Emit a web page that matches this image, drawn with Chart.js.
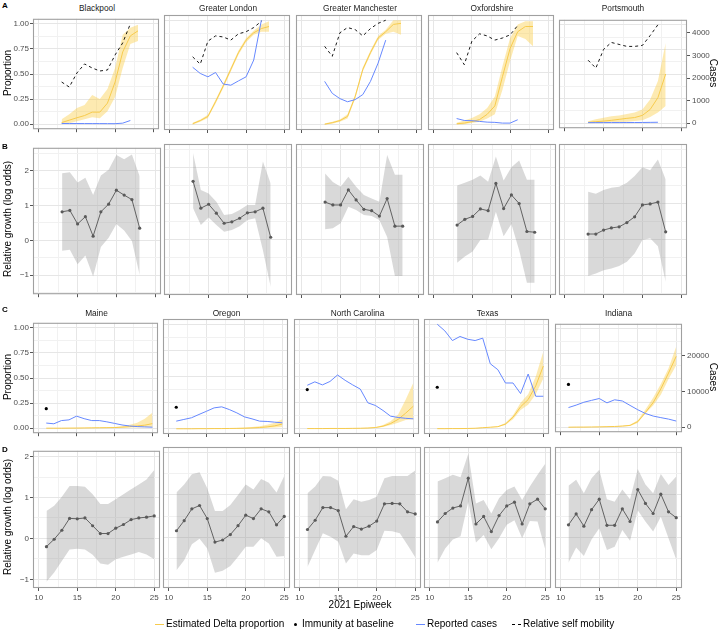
<!DOCTYPE html>
<html><head><meta charset="utf-8">
<script src="https://cdn.jsdelivr.net/npm/chart.js@4.4.1/dist/chart.umd.min.js"></script>
<style>
body{margin:0;background:#fff;}
#wrap{position:relative;width:720px;height:632px;overflow:hidden;font-family:'Liberation Sans',Arial,sans-serif;background:#fff;}
#wrap canvas{position:absolute;}
.strip{position:absolute;font-size:8.3px;line-height:10px;color:#1a1a1a;text-align:center;white-space:nowrap;}
.tag{position:absolute;font-size:8px;font-weight:bold;color:#000;line-height:10px;}
.rot{position:absolute;font-size:10px;line-height:12px;color:#000;white-space:nowrap;text-align:center;width:200px;}
.leg{position:absolute;font-size:10px;line-height:12px;color:#000;white-space:nowrap;}
</style></head>
<body><div id="wrap"></div>
<script>
// ---------------- DATA ----------------
const ukRegions = ['Blackpool','Greater London','Greater Manchester','Oxfordshire','Portsmouth'];
const usStates = ['Maine','Oregon','North Carolina','Texas','Indiana'];
const ukWeeks = [13,14,15,16,17,18,19,20,21,22,23];
const usWeeks = [11,12,13,14,15,16,17,18,19,20,21,22,23,24,25];
const xTickLabels = [10,15,20,25];
const propTicks = [0,0.25,0.5,0.75,1];
const growthTicks = [-1,0,1,2];
const ukCaseTicks = [0,1000,2000,3000,4000];
const usCaseTicks = [0,10000,20000];

// Panel A: estimated Delta proportion (median, low, high), weeks from 13
const ukDeltaMid = [
  [0.016,0.04,0.064,0.086,0.12,0.12,0.21,0.42,0.72,0.88,0.93],
  [0.01,0.04,0.08,0.22,0.37,0.53,0.69,0.81,0.88,0.92,0.94],
  [0.006,0.02,0.04,0.08,0.27,0.53,0.69,0.83,0.89,0.96,0.97],
  [0.01,0.016,0.03,0.05,0.10,0.18,0.46,0.73,0.89,0.94,0.94],
  [0.01,0.016,0.022,0.03,0.04,0.05,0.058,0.08,0.14,0.26,0.5]
];
const ukDeltaLow = [
  [0.0,0.01,0.03,0.05,0.07,0.06,0.13,0.27,0.56,0.80,0.83],
  [0.0,0.03,0.065,0.2,0.35,0.51,0.67,0.79,0.86,0.89,0.89],
  [0.0,0.01,0.03,0.06,0.25,0.51,0.67,0.81,0.87,0.89,0.86],
  [0.0,0.006,0.016,0.03,0.06,0.10,0.335,0.61,0.85,0.82,0.75],
  [0.0,0.003,0.006,0.01,0.013,0.016,0.022,0.03,0.064,0.11,0.175]
];
const ukDeltaHigh = [
  [0.05,0.10,0.16,0.19,0.29,0.25,0.35,0.56,0.89,0.96,0.99],
  [0.02,0.05,0.095,0.24,0.39,0.55,0.71,0.83,0.90,0.96,0.99],
  [0.012,0.03,0.05,0.10,0.29,0.55,0.71,0.85,0.91,1.0,1.0],
  [0.02,0.04,0.065,0.10,0.16,0.27,0.56,0.83,0.96,0.99,0.99],
  [0.02,0.04,0.055,0.07,0.08,0.093,0.11,0.14,0.24,0.43,0.815]
];
// reported cases, weeks from 13
const ukCases = [
  [30,28,28,27,26,25,24,22,45,160],
  [2400,2140,2000,2180,1700,1650,1830,2000,2700,4360],
  [1810,1310,1090,960,1050,1260,1810,2570,3530],
  [260,180,170,140,110,100,70,70,210],
  [30,30,30,32,32,33,34,35,40,45]
];
// relative self mobility, weeks from 13
const ukMobility = [
  [0.42,0.37,0.51,0.60,0.56,0.53,0.54,0.69,0.81,1.0],
  [0.65,0.58,0.80,0.85,0.84,0.81,0.87,0.89,0.93,0.99],
  [0.75,0.655,0.88,0.93,0.91,0.85,0.92,0.97,1.0],
  [0.69,0.575,0.80,0.87,0.85,0.81,0.83,0.86,0.95],
  [0.64,0.56,0.75,0.82,0.80,0.78,0.78,0.79,0.89,1.0]
];
// Panel B: relative growth (log odds), weeks from 13
const ukGrowth = [
  [0.82,0.86,0.47,0.68,0.12,0.82,1.04,1.44,1.30,1.17,0.35],
  [1.62,0.87,0.98,0.73,0.45,0.49,0.59,0.74,0.77,0.87,0.06],
  [1.04,0.96,0.96,1.38,1.10,0.84,0.80,0.65,1.14,0.37,0.37],
  [0.40,0.56,0.64,0.85,0.80,1.56,0.86,1.24,1.00,0.22,0.20],
  [0.15,0.15,0.26,0.32,0.35,0.47,0.63,0.96,0.99,1.04,0.21]
];
const ukGrowthLow = [
  [-0.30,-0.27,-0.69,-0.44,-1.04,-0.19,0.07,0.47,0.28,-0.02,-1.0],
  [0.87,0.40,0.61,0.40,0.21,0.26,0.37,0.54,0.59,-0.30,-1.32],
  [0.28,0.31,0.45,0.91,0.82,0.68,0.65,0.54,0.07,-1.02,-1.02],
  [-0.65,-0.48,-0.34,-0.02,0.0,0.77,0.09,0.43,-0.30,-1.21,-1.21],
  [-1.02,-0.95,-0.86,-0.81,-0.74,-0.62,-0.39,-0.02,0.03,-0.19,-1.18]
];
const ukGrowthHigh = [
  [1.93,1.96,1.66,1.80,1.30,1.86,2.03,2.45,2.33,2.47,1.84],
  [2.40,1.38,1.28,1.05,0.68,0.71,0.82,0.96,0.96,2.17,1.56],
  [1.84,1.60,1.47,1.75,1.47,1.24,1.14,1.05,2.35,1.80,1.80],
  [1.50,1.58,1.66,1.78,1.61,2.31,1.64,2.01,2.20,1.66,1.66],
  [1.33,1.27,1.38,1.44,1.47,1.58,1.77,2.01,1.93,2.23,1.67]
];

// Panel C: US states, weeks from 11
const usImmunity = [0.194,0.206,0.375,0.397,0.435];
const usCases = [
  [1400,1200,2080,2270,3290,2600,2080,2080,1730,1310,880,600,440,350,270],
  [2000,2440,2880,3750,4600,5480,5750,5040,4160,3120,2600,2000,1920,1730,1560],
  [11400,12300,11500,12400,14100,12700,11500,10400,6800,6100,4800,3300,2960,2740,2600],
  [27400,25660,23120,24190,23470,23120,23750,17040,15480,12000,12000,9230,14350,8520,8520],
  [5480,6160,6960,7480,8000,6790,7640,7310,6080,4880,3830,3120,2680,2270,1730]
];
const usDeltaMid = [
  [0.0,0.0,0.0,0.001,0.001,0.002,0.003,0.004,0.005,0.006,0.01,0.015,0.022,0.03,0.045],
  [0.0,0.0,0.0,0.001,0.001,0.002,0.002,0.003,0.004,0.005,0.008,0.012,0.018,0.028,0.045],
  [0.002,0.002,0.002,0.003,0.003,0.003,0.004,0.005,0.007,0.012,0.025,0.05,0.09,0.15,0.216],
  [0.001,0.001,0.002,0.002,0.003,0.005,0.01,0.015,0.02,0.045,0.11,0.21,0.28,0.41,0.6],
  [0.001,0.002,0.002,0.003,0.004,0.006,0.008,0.012,0.019,0.057,0.15,0.25,0.39,0.55,0.72]
];
const usDeltaLow = [
  [0,0,0,0,0,0.001,0.001,0.002,0.002,0.003,0.004,0.006,0.008,0.01,0.012],
  [0,0,0,0,0,0.001,0.001,0.001,0.002,0.003,0.004,0.006,0.009,0.013,0.018],
  [0.001,0.001,0.001,0.002,0.002,0.002,0.003,0.004,0.005,0.008,0.016,0.035,0.057,0.085,0.09],
  [0,0.001,0.001,0.001,0.002,0.004,0.008,0.012,0.016,0.035,0.09,0.18,0.23,0.33,0.48],
  [0,0.001,0.001,0.002,0.003,0.004,0.006,0.009,0.013,0.044,0.14,0.22,0.33,0.49,0.63]
];
const usDeltaHigh = [
  [0.001,0.002,0.002,0.003,0.004,0.005,0.006,0.008,0.01,0.013,0.02,0.035,0.055,0.095,0.155],
  [0.001,0.002,0.002,0.003,0.003,0.004,0.005,0.006,0.008,0.011,0.016,0.025,0.038,0.058,0.092],
  [0.003,0.003,0.003,0.004,0.004,0.005,0.006,0.007,0.01,0.015,0.035,0.073,0.137,0.28,0.44],
  [0.002,0.002,0.003,0.003,0.004,0.006,0.012,0.018,0.025,0.055,0.13,0.25,0.33,0.50,0.74],
  [0.002,0.003,0.003,0.004,0.005,0.008,0.01,0.015,0.025,0.07,0.18,0.30,0.44,0.60,0.82]
];
// Panel D: relative growth, weeks from 11
const usGrowth = [
  [-0.20,-0.02,0.20,0.49,0.48,0.50,0.31,0.12,0.12,0.25,0.34,0.46,0.50,0.52,0.55],
  [0.15,0.39,0.67,0.75,0.44,-0.12,-0.07,0.06,0.27,0.52,0.44,0.67,0.60,0.29,0.49],
  [0.18,0.40,0.70,0.70,0.63,0.02,0.25,0.19,0.26,0.38,0.79,0.80,0.79,0.60,0.55],
  [0.36,0.56,0.69,0.74,1.40,0.31,0.49,0.13,0.51,0.74,0.83,0.31,0.79,0.90,0.67],
  [0.29,0.55,0.26,0.65,0.90,0.28,0.28,0.67,0.37,1.13,0.80,0.56,1.02,0.60,0.46]
];
const usGrowthLow = [
  [-1.06,-0.83,-0.55,-0.27,-0.25,-0.27,-0.40,-0.61,-0.64,-0.51,-0.45,-0.39,-0.33,-0.39,-0.51],
  [-0.79,-0.55,-0.17,-0.04,-0.27,-0.85,-0.80,-0.69,-0.47,-0.23,-0.23,-0.03,-0.15,-0.47,-0.45],
  [-0.71,-0.31,0.09,0.01,-0.11,-0.63,-0.39,-0.43,-0.43,-0.31,0.15,0.14,0.09,-0.19,-0.48],
  [-0.61,-0.27,-0.06,0.02,0.84,-0.13,0.05,-0.29,-0.03,0.29,0.40,-0.03,0.38,0.37,-0.29],
  [-0.61,-0.25,-0.45,-0.06,0.21,-0.31,-0.23,0.17,-0.09,0.64,0.37,0.13,0.48,-0.03,-0.53]
];
const usGrowthHigh = [
  [0.67,0.80,1.02,1.28,1.28,1.26,1.08,0.84,0.84,0.96,1.08,1.20,1.32,1.44,1.67],
  [1.06,1.25,1.49,1.54,1.16,0.62,0.62,0.76,1.00,1.25,1.13,1.38,1.29,1.06,1.45],
  [1.04,1.20,1.45,1.44,1.34,0.66,0.90,0.84,0.88,0.96,1.40,1.45,1.45,1.45,1.58],
  [1.32,1.40,1.48,1.42,1.98,0.80,0.88,0.56,0.92,1.12,1.20,0.88,1.20,1.48,1.74],
  [1.22,1.36,1.04,1.40,1.60,0.90,0.84,1.13,0.90,1.62,1.25,1.04,1.50,1.24,1.44]
];

// ---------------- STYLE ----------------
const FONT = "'Liberation Sans', Arial, sans-serif";
const COL = {
  ribbon:'rgba(250,205,70,0.42)', delta:'#F7CB4D', cases:'#6688FF', mob:'#000000',
  gRibbon:'rgba(150,150,150,0.36)', gLine:'#555555', gPoint:'#5a5a5a',
  gridMaj:'#e6e6e6', gridMin:'#f1f1f1', border:'#a0a0a0', tick:'#4d4d4d', tickMark:'#555'
};
const wrap = document.getElementById('wrap');

const rows = {
  A:{top:15, h:115, lefts:[33,164,296,428,559], w:128},
  B:{top:144, h:151, lefts:[33,164,296,428,559], w:128},
  C:{top:319, h:115, lefts:[33,163,294,424,555], w:127},
  D:{top:447, h:141, lefts:[33,163,294,424,555], w:127}
};

const near = (a,b)=>Math.abs(a-b)<1e-7;
function tickSet(majors,min,max){
  const s = majors[1]-majors[0], out=[];
  for(let v=majors[0]-s; v<=majors[majors.length-1]+s+1e-9; v+=s/2){
    if(v>=min-1e-9 && v<=max+1e-9) out.push({value:+v.toFixed(6)});
  }
  return out;
}
const isMaj = (majors,v)=>majors.some(m=>near(m,v));
const pts = (weeks, vals)=>vals.map((v,i)=>({x:weeks[i], y:v}));

const borderPlugin = {
  id:'panelBorder',
  afterDraw(chart){
    const {ctx, chartArea:a} = chart;
    ctx.save(); ctx.strokeStyle = COL.border; ctx.lineWidth = 1.1;
    ctx.strokeRect(a.left+0.5, a.top+0.5, a.right-a.left-1, a.bottom-a.top-1);
    ctx.restore();
  }
};

function makePanel(o){
  const leftW = o.showY ? o.left : 2;
  const rightW = o.showY2 ? 36 : 2;
  const bottomW = o.showX ? 16 : 5;
  const cv = document.createElement('canvas');
  const cw = leftW + o.w + rightW, ch = 2 + o.h + bottomW;
  cv.width = cw; cv.height = ch;
  cv.style.left = (o.left-leftW)+'px'; cv.style.top = (o.top-2)+'px';
  cv.style.width = cw+'px'; cv.style.height = ch+'px';
  wrap.appendChild(cv);
  const xMaj = xTickLabels;
  const scales = {
    x:{type:'linear', min:9.25, max:25.75,
      afterBuildTicks:s=>{s.ticks = tickSet(xMaj,9.25,25.75);},
      afterFit:s=>{s.height = bottomW;},
      border:{display:false},
      grid:{color:c=>isMaj(xMaj,c.tick.value)?COL.gridMaj:COL.gridMin, lineWidth:1,
        tickLength:3, tickWidth:1, tickColor:c=>isMaj(xMaj,c.tick.value)?COL.tickMark:'rgba(0,0,0,0)'},
      ticks:{display:o.showX, autoSkip:false, maxRotation:0, padding:2,
        font:{family:FONT,size:8}, color:COL.tick,
        callback:v=>isMaj(xMaj,v)?String(v):''}
    },
    y:{type:'linear', min:o.yMin, max:o.yMax,
      afterBuildTicks:s=>{s.ticks = tickSet(o.yMajors,o.yMin,o.yMax);},
      afterFit:s=>{s.width = leftW;},
      border:{display:false},
      grid:{color:c=>isMaj(o.yMajors,c.tick.value)?COL.gridMaj:COL.gridMin, lineWidth:1,
        drawTicks:o.showY, tickLength:3, tickWidth:1,
        tickColor:c=>isMaj(o.yMajors,c.tick.value)?COL.tickMark:'rgba(0,0,0,0)'},
      ticks:{display:o.showY, autoSkip:false, padding:1,
        font:{family:FONT,size:8}, color:COL.tick,
        callback:v=>isMaj(o.yMajors,v)?o.yFmt(v):''}
    }
  };
  if(o.caseMax){
    const K = o.caseMax;
    scales.y2 = {type:'linear', position:'right', display:o.showY2,
      min:o.yMin*K, max:o.yMax*K,
      afterBuildTicks:s=>{s.ticks = o.caseTicks.map(v=>({value:v}));},
      afterFit:s=>{s.width = rightW;},
      border:{display:false},
      grid:{drawOnChartArea:false, tickLength:3, tickWidth:1, tickColor:COL.tickMark},
      ticks:{autoSkip:false, padding:2, font:{family:FONT,size:8}, color:COL.tick,
        callback:v=>String(v)}
    };
  }
  new Chart(cv, {
    type:'line',
    data:{datasets:o.datasets},
    options:{
      responsive:false, animation:false, devicePixelRatio:1,
      layout:{autoPadding:false, padding:{left:0, top:2, right:o.showY2?0:rightW, bottom:0}},
      plugins:{legend:{display:false}, tooltip:{enabled:false}},
      elements:{line:{tension:0}, point:{radius:0}},
      scales
    },
    plugins:[borderPlugin]
  });
}

function strip(text, left, w, cy){
  const d = document.createElement('div'); d.className='strip'; d.textContent=text;
  d.style.left=left+'px'; d.style.width=w+'px'; d.style.top=(cy-5)+'px'; wrap.appendChild(d);
}
function rotText(text, cx, cy, deg){
  const d = document.createElement('div'); d.className='rot'; d.textContent=text;
  d.style.left=(cx-100)+'px'; d.style.top=(cy-6)+'px'; d.style.transform='rotate('+deg+'deg)';
  wrap.appendChild(d);
}
function tag(text,x,y){const d=document.createElement('div');d.className='tag';d.textContent=text;d.style.left=x+'px';d.style.top=y+'px';wrap.appendChild(d);}

const fmtProp = v=>v.toFixed(2);
const fmtGrowth = v=>v<0?'\u2212'+Math.abs(v):String(v);
const ukCaseMax = Math.max(...ukCases.flat());
const usCaseMax = Math.max(...usCases.flat());

function deltaSets(weeks, mid, lo, hi){
  return [
    {data:pts(weeks,hi), borderWidth:0, backgroundColor:COL.ribbon, fill:'+1', pointRadius:0, order:5, yAxisID:'y'},
    {data:pts(weeks,lo), borderWidth:0, fill:false, pointRadius:0, order:6, yAxisID:'y'},
    {data:pts(weeks,mid), borderColor:COL.delta, borderWidth:1, fill:false, pointRadius:0, order:4, yAxisID:'y'}
  ];
}
function growthSets(weeks, mid, lo, hi){
  return [
    {data:pts(weeks,hi), borderWidth:0, backgroundColor:COL.gRibbon, fill:'+1', pointRadius:0, order:5},
    {data:pts(weeks,lo), borderWidth:0, fill:false, pointRadius:0, order:6},
    {data:pts(weeks,mid), borderColor:COL.gLine, borderWidth:0.9, fill:false, pointRadius:1.6,
      pointBackgroundColor:COL.gPoint, pointBorderWidth:0, order:1}
  ];
}

// Row A
ukRegions.forEach((name,i)=>{
  const r = rows.A;
  const ds = deltaSets(ukWeeks, ukDeltaMid[i], ukDeltaLow[i], ukDeltaHigh[i]);
  ds.push({data:pts(ukWeeks,ukCases[i]), borderColor:COL.cases, borderWidth:1, fill:false, pointRadius:0, order:2, yAxisID:'y2'});
  ds.push({data:pts(ukWeeks,ukMobility[i]), borderColor:COL.mob, borderWidth:0.9, borderDash:[3,3], fill:false, pointRadius:0, order:1, yAxisID:'y'});
  makePanel({left:r.lefts[i], top:r.top, w:r.w, h:r.h, showY:i===0, showY2:i===4, showX:false,
    yMin:-0.05, yMax:1.05, yMajors:propTicks, yFmt:fmtProp, caseMax:ukCaseMax, caseTicks:ukCaseTicks, datasets:ds});
  strip(name, r.lefts[i], r.w, 8);
});
// Row B
ukRegions.forEach((name,i)=>{
  const r = rows.B;
  makePanel({left:r.lefts[i], top:r.top, w:r.w, h:r.h, showY:i===0, showY2:false, showX:false,
    yMin:-1.55, yMax:2.66, yMajors:growthTicks, yFmt:fmtGrowth,
    datasets:growthSets(ukWeeks, ukGrowth[i], ukGrowthLow[i], ukGrowthHigh[i])});
});
// Row C
usStates.forEach((name,i)=>{
  const r = rows.C;
  const ds = deltaSets(usWeeks, usDeltaMid[i], usDeltaLow[i], usDeltaHigh[i]);
  ds.push({data:pts(usWeeks,usCases[i]), borderColor:COL.cases, borderWidth:1, fill:false, pointRadius:0, order:2, yAxisID:'y2'});
  ds.push({data:[{x:usWeeks[0], y:usImmunity[i]}], showLine:false, pointRadius:1.6, pointBackgroundColor:'#000', pointBorderWidth:0, order:0, yAxisID:'y'});
  makePanel({left:r.lefts[i], top:r.top, w:r.w, h:r.h, showY:i===0, showY2:i===4, showX:false,
    yMin:-0.05, yMax:1.05, yMajors:propTicks, yFmt:fmtProp, caseMax:usCaseMax, caseTicks:usCaseTicks, datasets:ds});
  strip(name, r.lefts[i], r.w, 313);
});
// Row D
usStates.forEach((name,i)=>{
  const r = rows.D;
  makePanel({left:r.lefts[i], top:r.top, w:r.w, h:r.h, showY:i===0, showY2:false, showX:true,
    yMin:-1.21, yMax:2.14, yMajors:growthTicks, yFmt:fmtGrowth,
    datasets:growthSets(usWeeks, usGrowth[i], usGrowthLow[i], usGrowthHigh[i])});
});

// Titles and tags
tag('A',2,1); tag('B',2,142); tag('C',2,305); tag('D',2,445);
rotText('Proportion', 8, 73, -90);
rotText('Relative growth (log odds)', 8, 219, -90);
rotText('Proportion', 8, 377, -90);
rotText('Relative growth (log odds)', 8, 517, -90);
rotText('Cases', 713, 73, 90);
rotText('Cases', 713, 377, 90);
const xt = document.createElement('div'); xt.className='leg'; xt.textContent='2021 Epiweek';
xt.style.left='300px'; xt.style.width='120px'; xt.style.textAlign='center'; xt.style.top='599px'; wrap.appendChild(xt);

// Legend
function legItem(x, text, kind){
  const y = 624;
  const sw = document.createElement('div'); sw.style.position='absolute';
  if(kind==='delta'){ Object.assign(sw.style,{left:x+'px',top:(y-0.5)+'px',width:'9px',height:'0',borderTop:'1.3px solid '+COL.delta}); }
  if(kind==='dot'){ Object.assign(sw.style,{left:(x+3)+'px',top:(y-1.5)+'px',width:'3px',height:'3px',borderRadius:'50%',background:'#000'}); }
  if(kind==='cases'){ Object.assign(sw.style,{left:x+'px',top:(y-0.5)+'px',width:'9px',height:'0',borderTop:'1.3px solid '+COL.cases}); }
  if(kind==='mob'){ Object.assign(sw.style,{left:x+'px',top:(y-0.5)+'px',width:'9px',height:'0',borderTop:'1px dashed #000'}); }
  wrap.appendChild(sw);
  const t = document.createElement('div'); t.className='leg'; t.textContent=text;
  t.style.left=(x+11)+'px'; t.style.top=(y-6)+'px'; wrap.appendChild(t);
}
legItem(155,'Estimated Delta proportion','delta');
legItem(291,'Immunity at baseline','dot');
legItem(416,'Reported cases','cases');
legItem(512,'Relative self mobility','mob');
</script>
</body></html>
